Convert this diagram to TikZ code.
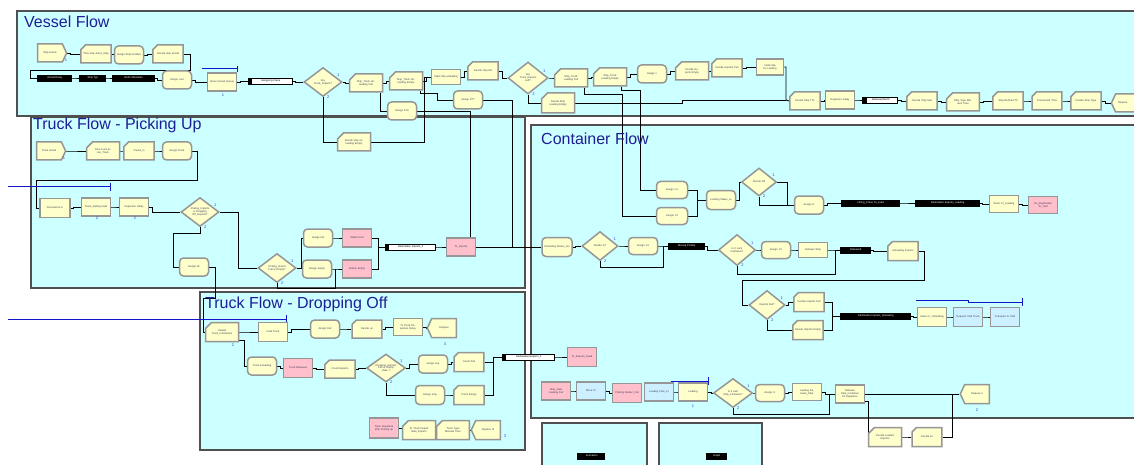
\documentclass[tikz,border=0pt]{standalone}
\usepackage{fontspec}
\setmainfont{Liberation Sans}
\usetikzlibrary{shapes.geometric,shapes.misc,shapes.symbols}
\newcommand\nodefont{\fontsize{2.6}{2.9}\selectfont}
\pgfdeclarelayer{back}\pgfdeclarelayer{mid}
\pgfsetlayers{back,mid,main}
\definecolor{panelc}{RGB}{204,255,255}
\definecolor{panelb}{RGB}{80,80,80}
\definecolor{nodey}{RGB}{255,255,204}
\definecolor{modb}{RGB}{150,150,150}
\definecolor{pinkc}{RGB}{255,192,203}
\definecolor{lbluec}{RGB}{204,240,255}
\definecolor{titlec}{RGB}{30,30,150}
\definecolor{textc}{RGB}{60,60,90}
\definecolor{barc}{RGB}{20,20,200}
\definecolor{numc}{RGB}{60,60,220}
\tikzset{
 panel/.style={draw=panelb,line width=1.3pt,fill=panelc},
 ttl/.style={anchor=base west,font=\fontsize{16}{18}\selectfont,text=titlec,inner sep=0},
 mod/.style={draw=modb,line width=1.5pt,fill=nodey,minimum width=29pt,minimum height=18pt,inner sep=0.5pt,font=\nodefont,text=textc,align=center,text width=26pt},
 proc/.style={mod,rectangle},
 asg/.style={mod,rectangle,rounded corners=4pt},
 rec/.style={mod,chamfered rectangle,chamfered rectangle corners=north west,chamfered rectangle xsep=3pt,chamfered rectangle ysep=3pt},
 crt/.style={mod,signal,signal to=east,signal pointer angle=130,text width=22pt},
 dsp/.style={mod,signal,signal to=west,signal pointer angle=130,text width=22pt},
 dec/.style={mod,diamond,minimum width=38pt,minimum height=29pt,text width=22pt,aspect=1.3,
   label={[num]20:1},label={[num]-75:2}},
 pnk/.style={mod,rectangle,fill=pinkc},
 lbn/.style={mod,rectangle,fill=lbluec},
 flg/.style={rectangle,draw=black,line width=0.9pt,fill=white,minimum width=40pt,minimum height=6pt,inner sep=0,font=\nodefont,text=black,
   path picture={\fill[black] (path picture bounding box.south west) rectangle ([xshift=4pt]path picture bounding box.north west);}},
 flgb/.style={flg,fill=black,text=white},
 con/.style={draw=black,line width=0.9pt},
 bbar/.style={draw=barc,line width=1pt},
 num/.style={font=\fontsize{4}{4}\selectfont,text=numc,inner sep=0.5pt},
}
\begin{document}
\begin{tikzpicture}[x=1pt,y=-1pt]
\useasboundingbox (0,0) rectangle (1134,465);
\begin{pgfonlayer}{back}
\fill[white] (0,0) rectangle (1134,465);
\draw[panel] (17,11) rectangle (1145,116);
\draw[panel] (31,117) rectangle (525,288);
\draw[panel] (531,125) rectangle (1145,418);
\draw[panel] (200,292) rectangle (525,450);
\draw[panel] (542,423) rectangle (647,475);
\draw[panel] (659,423) rectangle (762,475);
\end{pgfonlayer}
% titles
\node[ttl] (tv) at (24,28) {Vessel Flow};
\node[ttl] (tp) at (33,130) {Truck Flow - Picking Up};
\node[ttl] (tc) at (541,145) {Container Flow};
\node[ttl] (td) at (205,308) {Truck Flow - Dropping Off};
% ---------------- Vessel flow
\node[crt] (v1) at (50,53) {Ship arrival};
\node[rec] (v2) at (96,54) {Time ship arrive\_Ship};
\node[asg] (v3) at (129,55) {Assign Ship Number};
\node[rec] (v4) at (168,54) {Decide ship arrival};
\node[flgb,minimum width=34pt] (v5) at (54,78) {\ \ Arrival Delay};
\node[flgb,minimum width=26pt] (v6) at (92,78) {\ \ Ship Typ};
\node[flgb,minimum width=42pt] (v7) at (133,78) {\ \ Berth Allocation};
\node[asg] (v8) at (177,80) {Assign cust};
\node[proc] (v9) at (222,82) {Arrive Vessel Queue};
\node[flg,minimum width=44pt] (v10) at (270,81) {\ \ Assigning Crane};
\node[dec] (v11) at (323,82) {Any Truck\_Imports?};
\node[rec] (v12) at (366,83) {Ship\_Truck Unloading Full};
\node[rec] (v13) at (406,81) {Ship\_Truck Unloading Empty};
\node[proc,minimum height=15pt] (v14) at (446,77) {Start ship unloading};
\node[rec] (v15) at (483,71) {Decide ship left};
\node[dec,minimum width=40pt,minimum height=32pt] (v16) at (528,78) {Any Truck\_Exports Left?};
\node[rec] (v17) at (571,78) {Ship\_Truck Loading Full};
\node[rec] (v18) at (610,77) {Ship\_Truck Loading Empty};
\node[asg] (v19) at (652,74) {Assign v};
\node[rec] (v20) at (692,71) {Decide Exports Empty};
\node[rec] (v21) at (727,68) {Decide Exports Full};
\node[proc,minimum width=27pt,minimum height=16pt,text width=24pt] (v22) at (770,67) {Hold ship for Loading};
\node[rec] (v23) at (805,101) {Decide Ship TTL};
\node[proc] (v24) at (840,100) {Departure Delay};
\node[flg,minimum width=35pt] (v25) at (880,100) {\ \ Released Berth};
\node[rec] (v26) at (922,101) {Decide Ship Sail};
\node[rec] (v27) at (963,102) {Ship Type Minutes Time};
\node[rec] (v28) at (1008,101) {Ship Berthed Ttl};
\node[rec] (v29) at (1047,101) {Turnaround Time};
\node[rec] (v30) at (1086,101) {Decide Ship Type};
\node[dsp,align=left,text width=20pt] (v31) at (1128,103) {Dispose};
\node[rec] (v32) at (354,142) {Decide ship unloading Empty};
\node[asg] (v33) at (402,111) {Assign 2TU};
\node[asg] (v34) at (468,100) {Assign 2TT};
\node[rec,minimum height=20pt] (v35) at (558,103) {Decide Ship Loading Empty};
\node[num] (n1) at (66,60) {1};
\node[num] (n2) at (223,95) {1};
% ---------------- Truck flow picking up
\node[crt] (t1) at (49,151) {Truck arrival};
\node[rec] (t2) at (103,151) {Time truck arrive\_Truck};
\node[rec] (t3) at (139,151) {Trucks\_in};
\node[asg] (t4) at (177,151) {Assign Truck};
\node[proc,minimum width=30pt,minimum height=19pt] (t5) at (55,208) {Documents in};
\node[proc] (t6) at (96,207) {Truck\_waiting Gate};
\node[proc] (t7) at (134,207) {Inspection Delay};
\node[dec] (t8) at (200,212) {Picking\_Imports or Dropping Off\_Exports?};
\node[asg] (t9) at (194,267) {Assign trk};
\node[dec] (t10) at (277,268) {Picking\_Import Full or Empty?};
\node[asg] (t11) at (318,238) {Assign full};
\node[pnk] (t12) at (357,238) {Station Full};
\node[asg] (t13) at (317,269) {Assign empty};
\node[pnk] (t14) at (357,269) {Station Empty};
\node[flg,minimum width=50pt] (t15) at (410,247) {\ \ Destination Imports\_2};
\node[pnk] (t16) at (461,247) {To\_Imports};
\node[num] (n3) at (64,158) {1};
\node[num] (n4) at (97,218) {2};
\node[num] (n5) at (135,218) {2};
% ---------------- Truck flow dropping off
\node[rec,minimum height=19pt] (d1) at (222,332) {Unload Truck\_Containers};
\node[proc,minimum height=19pt] (d2) at (273,332) {Hold Truck};
\node[asg] (d3) at (325,329) {Assign trk2};
\node[rec] (d4) at (367,329) {Decide un};
\node[proc,minimum height=17pt] (d5) at (408,327) {To Truck Departure Delay};
\node[dsp,minimum height=19pt] (d6) at (444,328) {Dispose};
\node[asg] (d7) at (262,366) {Truck unloading};
\node[pnk,minimum height=19pt] (d8) at (298,368) {Truck Releases};
\node[rec] (d9) at (340,369) {Count Exports};
\node[dec,minimum width=39pt,minimum height=28pt] (d10) at (386,368) {Dropping\_Exports Full or Empty state ?};
\node[asg] (d11) at (433,364) {Assign exp};
\node[rec,minimum height=19pt] (d12) at (469,362) {Count Full};
\node[asg,minimum height=19pt] (d13) at (430,395) {Assign emp};
\node[rec,minimum height=19pt] (d14) at (469,395) {Count Empty};
\node[flg,minimum width=52pt] (d15) at (528,357) {\ \ Destination Exports\_2};
\node[pnk,minimum height=19pt] (d16) at (582,357) {To\_Exports\_Dead};
\node[pnk,minimum height=20pt] (d17) at (384,428) {Truck Departure after Picking up};
\node[rec,minimum height=19pt] (d18) at (419,430) {To Truck Depart Wait\_Imports};
\node[rec,minimum height=19pt] (d19) at (453,430) {Truck Type Minutes Time};
\node[dsp,minimum height=19pt] (d20) at (488,430) {Dispose ttt};
\node[num] (n6) at (445,344) {3};
\node[num] (n7) at (505,436) {3};
\node[num] (n8) at (233,345) {2};
% ---------------- Container flow
\node[asg,minimum width=31pt,minimum height=17pt] (c1) at (672,190) {Assign crs};
\node[asg,minimum width=31pt,minimum height=17pt] (c2) at (672,216) {Assign crf};
\node[asg,minimum height=19pt] (c3) at (721,200) {Loading Status\_xx};
\node[dec,minimum width=35pt,minimum height=28pt] (c4) at (759,182) {Decide Fill};
\node[asg] (c5) at (809,205) {Assign cl};
\node[flgb,minimum width=58pt] (c6) at (870,203) {\ \ Hiring\_Crane To\_Load};
\node[flgb,minimum width=64pt] (c7) at (947,203) {\ \ Destination Exports\_Loading};
\node[proc,minimum height=17pt] (c8) at (1004,204) {Seize Cr\_Loading};
\node[pnk,minimum height=17pt] (c9) at (1043,205) {Go\_Destination To\_Yard};
\node[asg,minimum width=30pt,minimum height=19pt] (c10) at (557,247) {Unloading Status\_xxx};
\node[dec,minimum width=36pt] (c11) at (600,246) {Decide in?};
\node[asg,minimum height=17pt] (c12) at (643,246) {Assign 1/1};
\node[flgb,minimum width=36pt] (c13) at (686,246) {\ \ Moving PickUp};
\node[dec,minimum width=37pt,minimum height=31pt] (c14) at (737,250) {Is it Lock Container?};
\node[asg,minimum height=17pt] (c15) at (776,250) {Assign 1/1};
\node[proc,minimum height=15pt] (c16) at (813,250) {Release Ship};
\node[flgb,minimum width=30pt] (c17) at (855,250) {\ \ Released};
\node[rec,minimum height=19pt] (c18) at (903,251) {Unloading Imports};
\node[dec,minimum width=36pt] (c19) at (767,305) {Imports Full?};
\node[rec,minimum height=19pt] (c20) at (809,302) {Decide Imports Full};
\node[rec,minimum height=19pt] (c21) at (808,330) {Decide Imports Empty};
\node[flgb,minimum width=70pt] (c22) at (875,316) {\ \ Destination Imports\_Unloading};
\node[proc,minimum height=19pt] (c23) at (932,317) {Seize Cr\_Unloading};
\node[lbn,minimum height=19pt] (c24) at (968,317) {Request Yard Truck};
\node[lbn,minimum height=19pt] (c25) at (1005,317) {Transport to Yard};
\node[pnk] (c26) at (556,391) {Ship\_Gate Loading Full};
\node[lbn] (c27) at (591,391) {Move To};
\node[pnk,minimum height=19pt] (c28) at (627,393) {Parking Station\_Full};
\node[lbn] (c29) at (659,392) {Loading Flow\_xx};
\node[proc] (c30) at (693,392) {Loading};
\node[dec,minimum width=39pt] (c31) at (733,393) {Is it Last Ship\_Container?};
\node[asg,minimum height=17pt] (c32) at (770,393) {Assign r1};
\node[proc,minimum height=17pt] (c33) at (807,392) {Loading Release\_Ship};
\node[proc] (c34) at (850,394) {Release Ship\_Container for Departure};
\node[dsp,minimum height=19pt] (c35) at (977,394) {Dispose n};
\node[rec,minimum height=19pt] (c36) at (885,437) {Decide Loaded Exports};
\node[rec,minimum height=19pt] (c37) at (927,437) {Decide ex};
\node[num] (n9) at (977,410) {2};
\node[num] (n10) at (693,406) {1};
\node[flgb,minimum width=27pt] (b1) at (591,456) {\ \ Animation};
\node[flgb,minimum width=20pt] (b2) at (716,456) {\ \ Graph};
% ---------------- connectors
\begin{pgfonlayer}{mid}
\foreach \a/\b in {v1/v2,v2/v3,v3/v4,v5/v6,v6/v7,v7/v8,v8/v9,v9/v10,v10/v11,v11/v12,v12/v13,v13/v14,v14/v15,v15/v16,v16/v17,v17/v18,v18/v19,v19/v20,v20/v21,v21/v22,v23/v24,v24/v25,v25/v26,v26/v27,v27/v28,v28/v29,v29/v30,v30/v31,
 t1/t2,t2/t3,t3/t4,t5/t6,t6/t7,t7/t8,t11/t12,t13/t14,t15/t16,
 d1/d2,d2/d3,d3/d4,d4/d5,d5/d6,d7/d8,d8/d9,d9/d10,d10/d11,d11/d12,d13/d14,d15/d16,d17/d18,d18/d19,d19/d20,
 c3/c4,c5/c6,c6/c7,c7/c8,c8/c9,c10/c11,c11/c12,c12/c13,c13/c14,c14/c15,c15/c16,c16/c17,c17/c18,c19/c20,c22/c23,c23/c24,c24/c25,
 c26/c27,c27/c28,c29/c30,c30/c31,c31/c32,c32/c33,c33/c34,c36/c37}
  \draw[con] (\a.east) -- ++(3,0) |- (\b.west);
% vessel
\draw[con] (v4.east) -| (190,70) -| (30,78) -- (v5.west);
\draw[con] (v22.east) -| (786,100) -- (v23.west);
\draw[con] (v11.south) |- (v32.west);
\draw[con] (v32.east) -| (424,77) -- (v14.west);
\draw[con] ([xshift=-3pt]v12.south east) |- (v33.west);
\draw[con] ([xshift=-3pt]v13.south east) |- (437,93) |- (v34.west);
\draw[con] (v33.east) -| ([xshift=9pt]t16.north);
\draw[con] (v34.east) -| (512,247);
\draw[con] (v16.south) |- (v35.west);
\draw[con] (v35.east) -| (682,100) -- (786,100);
\draw[con] ([xshift=-4pt]v17.south east) |- (622,94) |- (c2.west);
\draw[con] ([xshift=-6pt]v18.south east) |- (640,90) |- (c1.west);
% truck picking up
\draw[con] (t4.east) -| (197,180) -| (36,208) -- (t5.west);
\draw[con] (t8.east) -| (238,268) -- (t10.west);
\draw[con] (t8.south) -- ++(0,6) -| (173,267) -- (t9.west);
\draw[con] (t9.east) -| (215,298) -| (203,332) -- (d1.west);
\draw[con] (t10.east) -- ++(5,0) |- (t11.west);
\draw[con] (t10.east) -- ++(5,0) |- (t13.west);
\draw[con] (t12.east) -- ++(6,0) |- (t15.west);
\draw[con] (t14.east) -- ++(6,0) |- (t15.west);
\draw[con] (t10.south) |- (335,288) -- (335,269);
\draw[con] (t16.east) -- (c10.west);
% truck dropping off
\draw[con] ([yshift=2pt]d1.south east) -- ++(5,0) |- (d7.west);
\draw[con] (d10.south) |- (d13.west);
\draw[con] (d12.east) -| (493,357) -- (d15.west);
\draw[con] (d14.east) -| (493,357);
% container
\draw[con] (c1.east) -| (697,200) -- (c3.west);
\draw[con] (c2.east) -| (697,200);
\draw[con] (c4.east) -| (787,205) -- (c5.west);
\draw[con] (c4.south) |- (c5.west);
\draw[con] (c11.south) -- ++(0,6) -| (663,246);
\draw[con] (c14.south) -- ++(0,8) -| (835,250);
\draw[con] (c18.east) -- ++(5,0) |- (742,280) |- (c19.west);
\draw[con] (c19.south) |- (c21.west);
\draw[con] (c20.east) -| (832,316) -- (c22.west);
\draw[con] (c21.east) -| (832,316);
\draw[con] (c31.south) -- ++(0,6) -| (829,394);
\draw[con] (c34.east) -- (c35.west);
\draw[con] ([yshift=2pt]c34.south east) -- ++(3,0) |- (c36.west);
\draw[con] (c37.east) -| (952,394);
% blue bars
\draw[bbar] (202,69) -- (237,69) (237,66) -- (237,72);
\draw[bbar] (8,187) -- (110,187) (110,183) -- (110,191);
\draw[bbar] (8,319) -- (286,319) (286,315) -- (286,323);
\draw[bbar] (916,300) -- (968,300) -- (968,302) -- (1022,302) (1022,298) -- (1022,306);
\draw[bbar] (671,381) -- (708,381) (708,377) -- (708,385);
\end{pgfonlayer}
\end{tikzpicture}
\end{document}
